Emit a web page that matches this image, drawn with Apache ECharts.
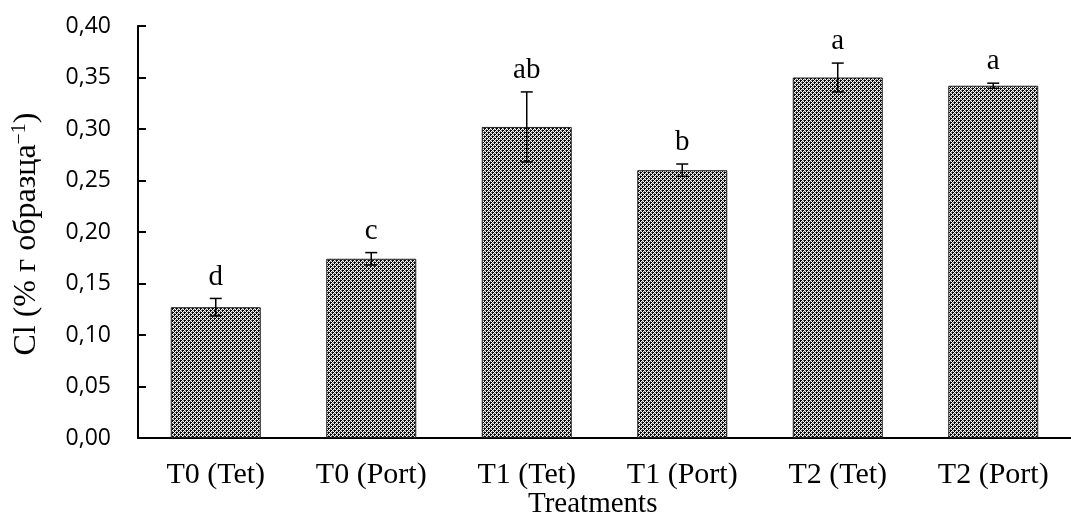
<!DOCTYPE html>
<html>
<head>
<meta charset="utf-8">
<script src="https://cdn.jsdelivr.net/npm/echarts@6/dist/echarts.min.js"></script>
<style>html,body{margin:0;padding:0;background:#fff}#c{width:1071px;height:515px}</style>
</head>
<body>
<div id="c"></div>
<script>
const categories = ['T0 (Tet)', 'T0 (Port)', 'T1 (Tet)', 'T1 (Port)', 'T2 (Tet)', 'T2 (Port)'];
const values = [0.127, 0.174, 0.302, 0.260, 0.350, 0.342];
const errors = [0.0085, 0.006, 0.034, 0.006, 0.014, 0.0025];
const letters = ['d', 'c', 'ab', 'b', 'a', 'a'];
const yTicks = { min: 0, max: 0.40, step: 0.05 };

// checker pattern
const pc = document.createElement('canvas');
pc.width = 4; pc.height = 4;
const g = pc.getContext('2d');
g.fillStyle = '#7a7a7a'; g.fillRect(0, 0, 4, 4);
g.fillStyle = '#000'; g.fillRect(0, 0, 2, 2); g.fillRect(2, 2, 2, 2);
g.fillStyle = '#fff'; g.fillRect(2, 0, 1, 1); g.fillRect(0, 2, 1, 1);
g.fillRect(1, 1, 1, 1); g.fillRect(3, 3, 1, 1);
g.fillRect(3, 1, 1, 1); g.fillRect(1, 3, 1, 1);

const chart = echarts.init(document.getElementById('c'));
const serif = '"Liberation Serif", "Times New Roman", serif';
chart.setOption({
  animation: false,
  grid: { left: 138, top: 26, width: 944, height: 412 },
  xAxis: {
    type: 'category',
    data: categories,
    axisLine: { lineStyle: { color: '#000', width: 2 } },
    axisTick: { inside: true, length: 7, lineStyle: { color: '#000', width: 2 } },
    axisLabel: { color: '#000', fontFamily: serif, fontSize: 30, margin: 22 }
  },
  yAxis: {
    type: 'value',
    min: yTicks.min, max: yTicks.max, interval: yTicks.step,
    splitLine: { show: false },
    axisLine: { show: true, lineStyle: { color: '#000', width: 2 } },
    axisTick: { show: true, inside: true, length: 8, lineStyle: { color: '#000', width: 2 } },
    axisLabel: { color: '#000', fontFamily: '"Open Sans", sans-serif', fontSize: 23, margin: 27,
      formatter: v => v.toFixed(2).replace('.', ',') }
  },
  graphic: [{
    type: 'text', left: 528, top: 490,
    style: { text: 'Treatments', font: '29px ' + serif, fill: '#000' }
  }, {
    type: 'text', x: 27, y: 234, rotation: Math.PI / 2,
    style: {
      text: '{a|Cl (% г образца}{s|−1}{a|)}',
      align: 'center', verticalAlign: 'middle',
      rich: {
        a: { fontFamily: serif, fontSize: 32, fill: '#000' },
        s: { fontFamily: serif, fontSize: 20, fill: '#000', padding: [0, 0, 14, 0] }
      }
    }
  }],
  series: [
    {
      type: 'bar',
      data: values,
      barWidth: 90,
      itemStyle: { color: { image: pc, repeat: 'repeat' }, borderColor: '#222', borderWidth: 1 }
    },
    {
      type: 'custom',
      data: values.map((v, i) => [i, v, errors[i]]),
      renderItem: (params, api) => {
        const i = api.value(0), v = api.value(1), e = api.value(2);
        const top = api.coord([i, v + e]);
        const bot = api.coord([i, v - e]);
        const w = 6;
        const ls = { stroke: '#000', lineWidth: 1.5 };
        return {
          type: 'group',
          children: [
            { type: 'line', shape: { x1: top[0], y1: top[1], x2: bot[0], y2: bot[1] }, style: ls },
            { type: 'line', shape: { x1: top[0] - w, y1: top[1], x2: top[0] + w, y2: top[1] }, style: ls },
            { type: 'line', shape: { x1: bot[0] - w, y1: bot[1], x2: bot[0] + w, y2: bot[1] }, style: ls },
            { type: 'text', x: top[0], y: top[1] - 7,
              style: { text: letters[i], font: '29px ' + serif, fill: '#000', textAlign: 'center', textVerticalAlign: 'bottom' } }
          ]
        };
      },
      z: 5
    }
  ]
});
</script>
</body>
</html>
